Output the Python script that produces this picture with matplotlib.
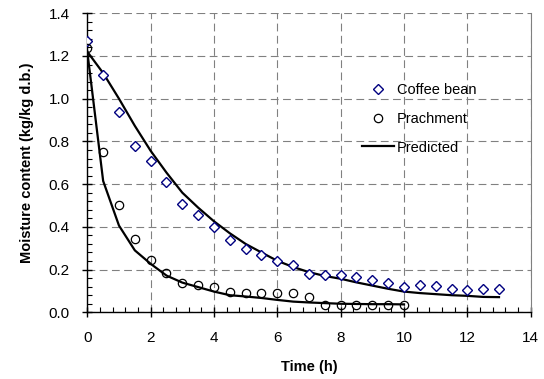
#!/usr/bin/env python3
"""Drying curves: moisture content vs time for coffee bean and prachment."""
import matplotlib
matplotlib.use("Agg")
import matplotlib.pyplot as plt
from matplotlib.ticker import MultipleLocator

# observed data
t_bean = [0, 0.5, 1, 1.5, 2, 2.5, 3, 3.5, 4, 4.5, 5, 5.5, 6, 6.5, 7, 7.5, 8,
          8.5, 9, 9.5, 10, 10.5, 11, 11.5, 12, 12.5, 13]
m_bean = [1.27, 1.11, 0.94, 0.78, 0.71, 0.61, 0.505, 0.455, 0.40, 0.34, 0.296,
          0.266, 0.241, 0.222, 0.180, 0.176, 0.176, 0.163, 0.149, 0.136, 0.118,
          0.127, 0.125, 0.111, 0.106, 0.111, 0.111]

t_parch = [0, 0.5, 1, 1.5, 2, 2.5, 3, 3.5, 4, 4.5, 5, 5.5, 6, 6.5, 7, 7.5, 8,
           8.5, 9, 9.5, 10]
m_parch = [1.238, 0.751, 0.503, 0.345, 0.245, 0.185, 0.138, 0.128, 0.119, 0.094,
           0.088, 0.088, 0.088, 0.092, 0.073, 0.036, 0.036, 0.036, 0.036, 0.036,
           0.036]

# model predictions
pred_bean = [1.22, 1.12, 1.00, 0.873, 0.756, 0.654, 0.56, 0.49, 0.426, 0.37,
             0.32, 0.28, 0.241, 0.212, 0.188, 0.17, 0.157, 0.14, 0.125, 0.11,
             0.097, 0.09, 0.085, 0.08, 0.077, 0.072, 0.071]
pred_parch = [1.22, 0.615, 0.406, 0.29, 0.227, 0.172, 0.139, 0.118, 0.097, 0.08,
              0.074, 0.067, 0.058, 0.05, 0.046, 0.043, 0.040, 0.039, 0.038,
              0.038, 0.037]

plt.rcParams["font.family"] = ["Liberation Sans", "DejaVu Sans"]

fig = plt.figure(figsize=(5.44, 3.79), dpi=100)
ax = fig.add_axes([0.1605, 0.176, 0.815, 0.789])

ax.plot(t_bean, m_bean, linestyle="none", marker="D", ms=4.6, mfc="white",
        mec="#000080", mew=1.0, label="Coffee bean", zorder=3)
ax.plot(t_parch, m_parch, linestyle="none", marker="o", ms=6, mfc="none",
        mec="black", mew=0.9, label="Prachment", zorder=3)
ax.plot(t_bean, pred_bean, color="black", lw=1.6, label="Predicted", zorder=2)
ax.plot(t_parch, pred_parch, color="black", lw=1.6, zorder=2)

ax.set_xlim(0, 14)
ax.set_ylim(0, 1.4)
ax.xaxis.set_major_locator(MultipleLocator(2))
ax.xaxis.set_minor_locator(MultipleLocator(0.4))
ax.yaxis.set_major_locator(MultipleLocator(0.2))
ax.yaxis.set_minor_locator(MultipleLocator(0.04))
ax.yaxis.set_major_formatter(plt.FormatStrFormatter("%.1f"))

ax.tick_params(which="major", direction="inout", length=7, width=1,
               labelsize=11)
ax.tick_params(axis="x", which="major", pad=10)
ax.tick_params(axis="y", which="major", pad=9)
ax.tick_params(which="minor", direction="in", length=3.5, width=0.8)
ax.tick_params(top=False, right=False, which="both")

ax.grid(True, which="major", color="#808080", linestyle=(0, (7, 4)), lw=0.8)
ax.set_axisbelow(True)

ax.spines["top"].set_visible(False)
ax.spines["right"].set_color("#808080")
for s in ("left", "bottom"):
    ax.spines[s].set_linewidth(1.0)

ax.set_xlabel("Time (h)", fontsize=10.5, fontweight="bold", labelpad=11)
ax.set_ylabel("Moisture content (kg/kg d.b.)", fontsize=10.5,
              fontweight="bold", labelpad=11)

ax.legend(loc="upper left", bbox_to_anchor=(0.606, 0.785), frameon=False,
          fontsize=10.5, handlelength=2.2, handletextpad=0.2,
          labelspacing=1.0, borderaxespad=0)

fig.savefig("out.png", dpi=100)
